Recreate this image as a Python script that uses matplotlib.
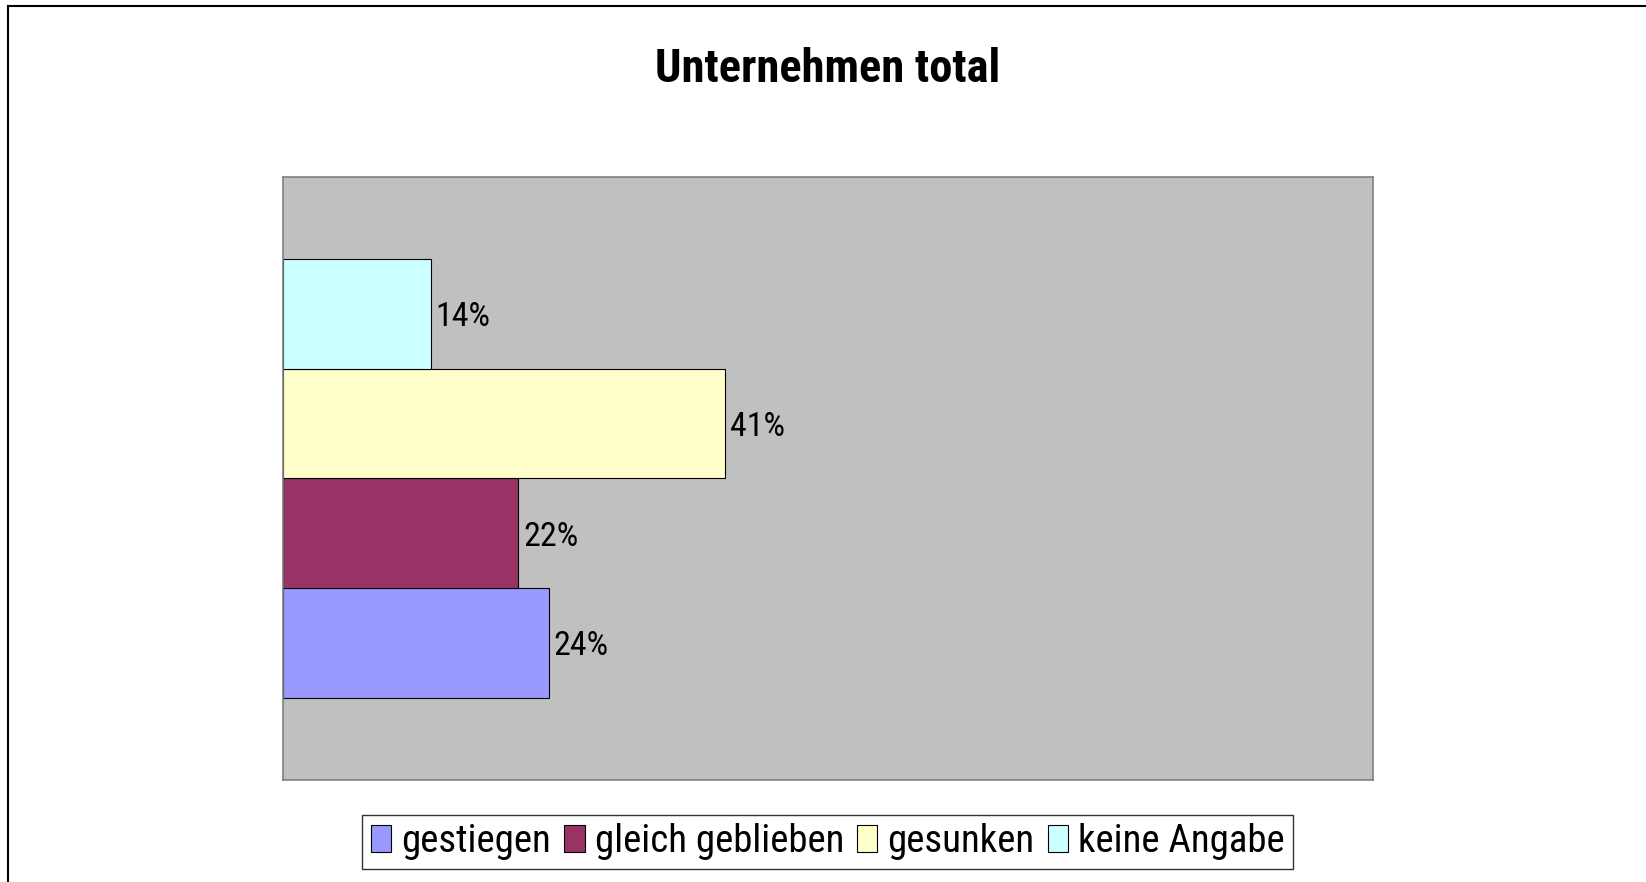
import matplotlib
matplotlib.use("Agg")
import matplotlib.pyplot as plt
from matplotlib.lines import Line2D

plt.rcParams['font.family'] = ['Roboto Condensed', 'Liberation Sans', 'DejaVu Sans']

# data (bottom to top)
categories = ["gestiegen", "gleich geblieben", "gesunken", "keine Angabe"]
values = [24.4, 21.6, 40.6, 13.6]
colors = ["#9999FF", "#993366", "#FFFFCC", "#CCFFFF"]
title = "Unternehmen total"

fig = plt.figure(figsize=(16.46, 8.82), dpi=100)
ax = fig.add_axes([0.1717, 0.1156, 0.6622, 0.6841])
ax.set_facecolor("#C0C0C0")

bars = []
for i, (cat, val, col) in enumerate(zip(categories, values, colors)):
    b = ax.barh(i, val, height=1.0, color=col, edgecolor="black", linewidth=0.8, label=cat)
    bars.append(b)
    ax.text(val + 0.45, i, "%d%%" % round(val), va="center_baseline", ha="left", fontsize=24.5)

ax.set_xlim(0, 100)
ax.set_ylim(-1.25, 4.25)
ax.set_xticks([])
ax.set_yticks([])
for s in ax.spines.values():
    s.set_color("#808080")
    s.set_linewidth(1.2)

fig.text(0.503, 0.9215, title, ha="center", va="center", fontsize=33.5, fontweight="bold")

leg = fig.legend(handles=[b[0] for b in bars], labels=categories, loc="center",
                 bbox_to_anchor=(0.503, 0.0454), ncol=4, fontsize=28, frameon=True,
                 fancybox=False, edgecolor="black", handlelength=0.52, handleheight=0.68,
                 handletextpad=0.26, columnspacing=0.34, borderpad=0.22, borderaxespad=0)
leg.get_frame().set_linewidth(1.0)

# outer border (cut off at right and bottom)
fig.add_artist(Line2D([8 / 1646, 8 / 1646], [0, 1 - 6 / 882], transform=fig.transFigure,
                      color="black", linewidth=1.5))
fig.add_artist(Line2D([8 / 1646, 1], [1 - 6 / 882, 1 - 6 / 882], transform=fig.transFigure,
                      color="black", linewidth=1.5))

fig.savefig("out.png", dpi=100)
